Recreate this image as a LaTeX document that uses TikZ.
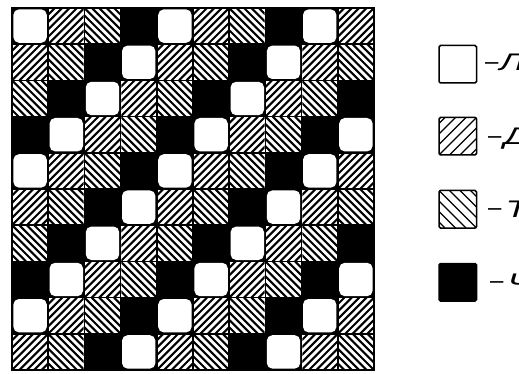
\documentclass[tikz,border=0pt]{standalone}
\usepackage{fontspec}
\newfontfamily\labfont{Liberation Sans}
\begin{document}
\begin{tikzpicture}[x=1pt,y=-1pt,
  hatchline/.style={line width=2.1pt,black},
  keyline/.style={line width=1.1pt,black},
  keybox/.style={line width=1.5pt,draw=black,rounded corners=1.5pt},
  keylabel/.style={anchor=base west,inner sep=0pt,font=\labfont\fontsize{24}{26}\selectfont}]
\useasboundingbox (0,0) rectangle (519,374);
\fill[white] (0,0) rectangle (519,374);
\def\X{12}\def\Y{8}\def\S{36.2}
% grid background (lines and black cells)
\fill[black] (\X,\Y) rectangle ++(362,362);
\foreach \r in {0,...,9}{
 \foreach \c in {0,...,9}{
  \pgfmathtruncatemacro\t{mod(\r+\c,4)}
  \pgfmathsetmacro\cx{\X+\c*\S}
  \pgfmathsetmacro\cy{\Y+\r*\S}
  \ifnum\t=0
    \fill[white,rounded corners=5.5pt] (\cx+1.4,\cy+1.4) rectangle (\cx+\S-1.4,\cy+\S-1.4);
  \fi
  \ifnum\t=1
    \begin{scope}
      \fill[white] (\cx+0.8,\cy+0.8) rectangle (\cx+\S-0.8,\cy+\S-0.8);
      \clip (\cx+0.8,\cy+0.8) rectangle (\cx+\S-0.8,\cy+\S-0.8);
      \foreach \k in {-6,...,6}{
        \draw[hatchline] (\cx+\k*7.4,\cy+\S) -- (\cx+\k*7.4+\S,\cy);
      }
    \end{scope}
  \fi
  \ifnum\t=2
    \begin{scope}
      \fill[white] (\cx+0.8,\cy+0.8) rectangle (\cx+\S-0.8,\cy+\S-0.8);
      \clip (\cx+0.8,\cy+0.8) rectangle (\cx+\S-0.8,\cy+\S-0.8);
      \foreach \k in {-6,...,6}{
        \draw[hatchline] (\cx+\k*7.4,\cy) -- (\cx+\k*7.4+\S,\cy+\S);
      }
    \end{scope}
  \fi
 }}
\draw[line width=2pt] (\X,\Y) rectangle ++(362,362);
% legend
\def\LX{439}\def\LS{37.5}
% 1: white
\draw[keybox,fill=white] (\LX,45.5) rectangle ++(\LS,\LS);
% 2: forward hatch
\begin{scope}
  \clip (\LX,117.5) rectangle ++(\LS,\LS);
  \foreach \k in {-4,...,4}{
    \draw[keyline] (\LX+\k*10.5,117.5+\LS) -- (\LX+\k*10.5+\LS,117.5);
  }
\end{scope}
\draw[keybox] (\LX,117.5) rectangle ++(\LS,\LS);
% 3: backward hatch
\begin{scope}
  \clip (\LX,190.5) rectangle ++(\LS,\LS);
  \foreach \k in {-4,...,4}{
    \draw[keyline] (\LX+\k*10.5,190.5) -- (\LX+\k*10.5+\LS,190.5+\LS);
  }
\end{scope}
\draw[keybox] (\LX,190.5) rectangle ++(\LS,\LS);
% 4: black
\draw[keybox,fill=black] (\LX,263.5) rectangle ++(\LS,\LS);
% labels (cut by the right edge of the picture, as in the reference)
\node[keylabel] (l1) at (485,71) {\raisebox{1.8pt}{–}\kern1pt\itshape\scalebox{1.5}[1]{Л}};
\node[keylabel] (l2) at (488,145) {\raisebox{1.8pt}{–}\kern2.5pt\itshape\scalebox{1.5}[1]{Д}};
\node[keylabel] (l3) at (488,217) {\raisebox{1.8pt}{–}\kern4pt\itshape\scalebox{1.5}[1]{Т}};
\node[keylabel] (l4) at (490,290) {\raisebox{1.8pt}{–}\kern4pt\itshape\scalebox{1.5}[1]{Ч}};
\end{tikzpicture}
\end{document}
